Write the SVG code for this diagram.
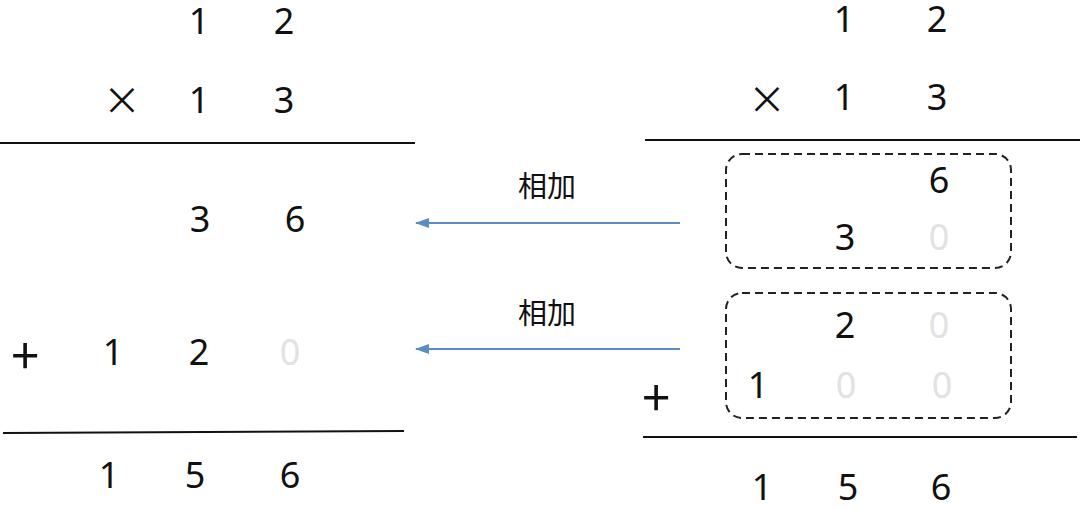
<svg xmlns="http://www.w3.org/2000/svg" width="1080" height="510" viewBox="0 0 1080 510">
<defs>
<style>
.d{font-family:"Noto Sans","Open Sans","Liberation Sans",sans-serif;font-size:36px;fill:#111;text-anchor:middle}
.op{font-family:"Noto Sans CJK SC","Noto Sans",sans-serif;font-size:38px}
.pl{font-size:50px}
.g{fill:#e2e2e2}
.lbl{font-family:"Noto Sans CJK SC","Noto Sans",sans-serif;font-size:29px;fill:#111;text-anchor:middle}
.rule{stroke:#111;stroke-width:2;fill:none}
.box{stroke:#222;stroke-width:2;fill:none;stroke-dasharray:8 5}
.arr{stroke:#5b8cc3;stroke-width:2;fill:none;marker-end:url(#ah)}
</style>
<marker id="ah" markerWidth="14" markerHeight="10" refX="13" refY="5" orient="auto" markerUnits="userSpaceOnUse">
<path d="M0,0 L14,5 L0,10 Z" fill="#5b8cc3"/>
</marker>
</defs>
<rect width="1080" height="510" fill="#fff"/>
<g id="left">
<text class="d" x="199" y="34">1</text>
<text class="d" x="284" y="34">2</text>
<text class="d op" x="122" y="114">×</text>
<text class="d" x="199" y="113">1</text>
<text class="d" x="284" y="113">3</text>
<line class="rule" x1="0" y1="143" x2="415" y2="143"/>
<text class="d" x="200" y="232">3</text>
<text class="d" x="295" y="232">6</text>
<text class="d op pl" x="25" y="374">+</text>
<text class="d" x="113" y="365">1</text>
<text class="d" x="199" y="365">2</text>
<text class="d g" x="290" y="365">0</text>
<line class="rule" x1="3" y1="433" x2="404" y2="431"/>
<text class="d" x="109" y="488">1</text>
<text class="d" x="195" y="488">5</text>
<text class="d" x="290" y="488">6</text>
</g>
<g id="connectors">
<line class="arr" x1="680" y1="223" x2="416" y2="223"/>
<line class="arr" x1="680" y1="349" x2="416" y2="349"/>
<text class="lbl" x="547" y="197">相加</text>
<text class="lbl" x="547" y="324">相加</text>
</g>
<g id="right">
<text class="d" x="844" y="32">1</text>
<text class="d" x="937" y="32">2</text>
<text class="d op" x="767" y="113">×</text>
<text class="d" x="844" y="110">1</text>
<text class="d" x="937" y="110">3</text>
<line class="rule" x1="645" y1="140" x2="1080" y2="140"/>
</g>
<g id="box1">
<rect class="box" x="726" y="154" width="285" height="114" rx="16"/>
<text class="d" x="939" y="193">6</text>
<text class="d" x="845" y="250">3</text>
<text class="d g" x="939" y="250">0</text>
</g>
<g id="box2">
<rect class="box" x="726" y="293" width="285" height="125" rx="16"/>
<text class="d" x="845" y="338">2</text>
<text class="d g" x="939" y="338">0</text>
<text class="d" x="758" y="398">1</text>
<text class="d g" x="846" y="398">0</text>
<text class="d g" x="942" y="398">0</text>
</g>
<g id="right-sum">
<text class="d op pl" x="656" y="416">+</text>
<line class="rule" x1="643" y1="437" x2="1077" y2="437"/>
<text class="d" x="762" y="500">1</text>
<text class="d" x="848" y="500">5</text>
<text class="d" x="941" y="500">6</text>
</g>
</svg>
